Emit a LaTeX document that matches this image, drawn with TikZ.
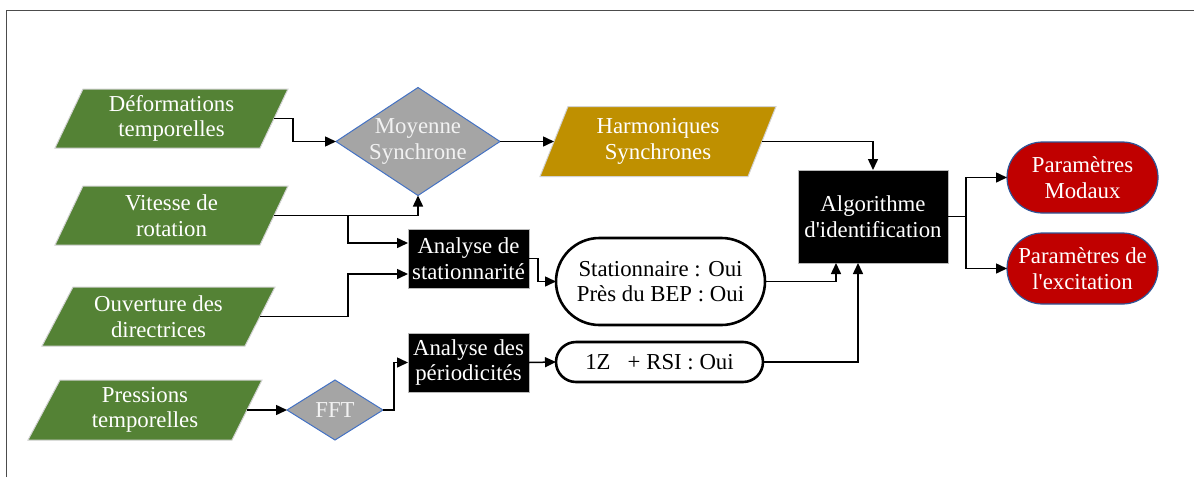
\documentclass[tikz,border=0pt]{standalone}
\usepackage{fontspec}
\setmainfont{Liberation Serif}
\usetikzlibrary{shapes.geometric,shapes.misc,arrows.meta}
\definecolor{grn}{HTML}{548235}
\definecolor{gold}{HTML}{BF9000}
\definecolor{dred}{HTML}{C00000}
\definecolor{dgray}{HTML}{A5A5A5}
\definecolor{dblue}{HTML}{4472C4}
\definecolor{oblue}{HTML}{2F5597}
\definecolor{lighttxt}{HTML}{F2F2F2}
\begin{document}
\begin{tikzpicture}[x=0.5pt,y=-0.5pt,
  every node/.style={font=\fontsize{11.4}{12.8}\selectfont, align=center, inner sep=0pt, outer sep=0pt},
  txt/.style={text=white},
  para/.style={line width=0.5pt, draw=gray!35},
  blackbox/.style={rectangle, fill=black, draw=gray!55, line width=0.5pt, text=white},
  dia/.style={diamond, fill=dgray, draw=dblue, line width=0.5pt},
  whitebox/.style={rounded rectangle, draw=black, line width=1.3pt, fill=white},
  redbox/.style={rounded rectangle, fill=dred, draw=oblue, line width=0.6pt, text=white},
  arr/.style={draw, line width=0.75pt, -{Triangle[length=5.5pt,width=5pt]}},
  ln/.style={draw, line width=0.75pt}]
\useasboundingbox (0,0) rectangle (1194,477);
% frame
\draw[line width=0.8pt, draw=black!70] (6.5,477) -- (6.5,10.5) -- (1194,10.5);

% input parallelograms
\path[para, fill=grn] (83,89) -- (288,89) -- (260,148) -- (55,148) -- cycle;
\node[txt] (def) at (171.5,118.5) {Déformations\\temporelles};
\coordinate (defR) at (274,118.5);

\path[para, fill=grn] (83,186) -- (288,186) -- (260,245) -- (55,245) -- cycle;
\node[txt] (vit) at (171.5,215.5) {Vitesse de\\rotation};
\coordinate (vitR) at (274,215.5);

\path[para, fill=grn] (73,287) -- (275,287) -- (245,346) -- (42,346) -- cycle;
\node[txt] (ouv) at (158.5,316.5) {Ouverture des\\directrices};
\coordinate (ouvR) at (260,316.5);

\path[para, fill=grn] (60,380) -- (262,380) -- (232,440) -- (28,440) -- cycle;
\node[txt] (pre) at (145,410) {Pressions\\temporelles};
\coordinate (preR) at (247,410);

% harmoniques
\path[para, fill=gold] (568,106.5) -- (776,106.5) -- (748,176.5) -- (540,176.5) -- cycle;
\node[txt] (har) at (658,141.5) {Harmoniques\\Synchrones};
\coordinate (harL) at (554,141.5);
\coordinate (harR) at (762,141.5);

% diamonds
\node[dia, minimum width=82pt, minimum height=54pt] (ms) at (418,141.5) {};
\node[text=lighttxt] at (ms) {Moyenne\\Synchrone};
\node[dia, minimum width=48pt, minimum height=30pt] (fft) at (335,410) {};
\node[text=lighttxt] at (fft) {FFT};

% black boxes
\node[blackbox, minimum width=60.5pt, minimum height=29.5pt] (asta) at (468.5,258.5) {Analyse de\\stationnarité};
\node[blackbox, minimum width=60.5pt, minimum height=29.5pt] (aper) at (468.5,362.5) {Analyse des\\périodicités};
\node[blackbox, minimum width=75pt, minimum height=46.5pt] (algo) at (873,216.5) {Algorithme\\d\textquotesingle identification};

% white rounded boxes
\node[whitebox, minimum width=104.5pt, minimum height=43.5pt] (stat) at (660.5,281.5) {Stationnaire : Oui\\Près du BEP : Oui};
\node[whitebox, minimum width=103.5pt, minimum height=20pt] (rz) at (659.5,362) {1Z~~~+ RSI : Oui};

% red outputs
\node[redbox, minimum width=75.5pt, minimum height=35.5pt] (pm) at (1082.5,177.5) {Paramètres\\Modaux};
\node[redbox, minimum width=75.5pt, minimum height=35.5pt] (pe) at (1082.5,268.5) {Paramètres de\\l\textquotesingle excitation};

% connectors
\draw[arr] (defR) -- (293,118.5) |- (ms.west);
\draw[arr] (vitR) -| (ms.south);
\coordinate (vb) at (348,215.5);
\draw[arr] (vb) |- ([yshift=7.75pt]asta.west);
\draw[arr] (ouvR) -| (348,274) -- ([yshift=-7.75pt]asta.west);
\draw[arr] (preR) -- (fft.west);
\draw[arr] (fft.east) -- (394,410) |- (aper.west);
\draw[arr] (ms.east) -- (harL);
\draw[arr] (harR) -| (algo.north);
\draw[arr] (asta.east) -- (538,258.5) |- (stat.west);
\draw[arr] (aper.east) -- (rz.west);
\draw[arr] (stat.east) -| ([xshift=-18.5pt]algo.south);
\draw[arr] (rz.east) -| ([xshift=-7.5pt]algo.south);
\coordinate (ab) at (966,216.5);
\draw[ln] (algo.east) -- (ab);
\draw[arr] (ab) |- (pm.west);
\draw[arr] (ab) |- (pe.west);
\end{tikzpicture}
\end{document}
